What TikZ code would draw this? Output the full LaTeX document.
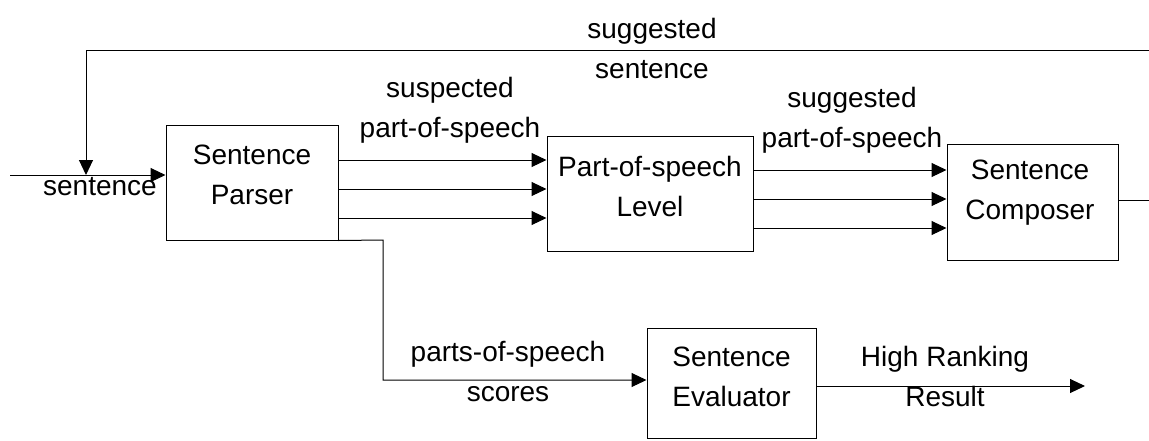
\documentclass[tikz,border=0pt]{standalone}
\usepackage{fontspec}
\setmainfont{Liberation Sans}
\usetikzlibrary{arrows.meta}
\begin{document}
\begin{tikzpicture}[x=1pt,y=-1pt,
  font=\fontsize{28}{40}\selectfont,
  block/.style={draw, line width=1pt, inner sep=0pt},
  txt/.style={align=center, inner sep=0pt},
  link/.style={line width=1pt},
  flow/.style={link, -{Triangle[length=15pt,width=14pt]}}]
\useasboundingbox (0,0) rectangle (1149,440);
\fill[white] (0,0) rectangle (1149,440);

% blocks
\node[block, minimum width=172pt, minimum height=115pt] (parser) at (252,182.5) {};
\node[block, minimum width=206pt, minimum height=115pt] (pos) at (650,193.5) {};
\node[block, minimum width=171pt, minimum height=116pt] (composer) at (1032.5,202) {};
\node[block, minimum width=169pt, minimum height=110pt] (evaluator) at (731.5,383) {};

% block captions
\node[txt] (parserT) at (252,175) {Sentence\\Parser};
\node[txt] (posT) at (650,186) {Part-of-speech\\Level};
\node[txt] (composerT) at (1030,193) {Sentence\\Composer};
\node[txt] (evaluatorT) at (731.5,377) {Sentence\\Evaluator};

% input and feedback
\coordinate (in) at (10,175);
\coordinate (fbR) at (1160,200);
\coordinate (fbTopR) at (1160,50);
\coordinate (fbTopL) at (86,50);
\coordinate (fbTip) at (86,175);
\draw[flow] (in) -- (in -| parser.west);
\draw[flow] (composer.east |- fbR) -- (fbR) -- (fbTopR) -- (fbTopL) -- (fbTip);
\node[txt] (lblIn) at (100,187) {sentence};
\node[txt] (lblFb) at (652,48) {suggested\\sentence};

% parser to part-of-speech level
\foreach \yy in {160,189,218}
  \draw[flow] (parser.east |- 0,\yy) -- (pos.west |- 0,\yy);
\node[txt] (lblSus) at (450,110) {suspected\\part-of-speech};

% part-of-speech level to composer
\foreach \yy in {170,199,228}
  \draw[flow] (pos.east |- 0,\yy) -- (composer.west |- 0,\yy);
\node[txt] (lblSug) at (852,120) {suggested\\part-of-speech};

% scores to evaluator
\coordinate (bend) at (383,240);
\draw[flow] (parser.south east) -- (bend) -- (383,380) -- (evaluator.west |- 0,380);
\node[txt] (lblScores) at (508,371) {parts-of-speech\\scores};

% evaluator output
\coordinate (out) at (1085,386);
\draw[flow] (evaluator.east |- out) -- (out);
\node[txt] (lblOut) at (945,376) {High Ranking\\Result};
\end{tikzpicture}
\end{document}
